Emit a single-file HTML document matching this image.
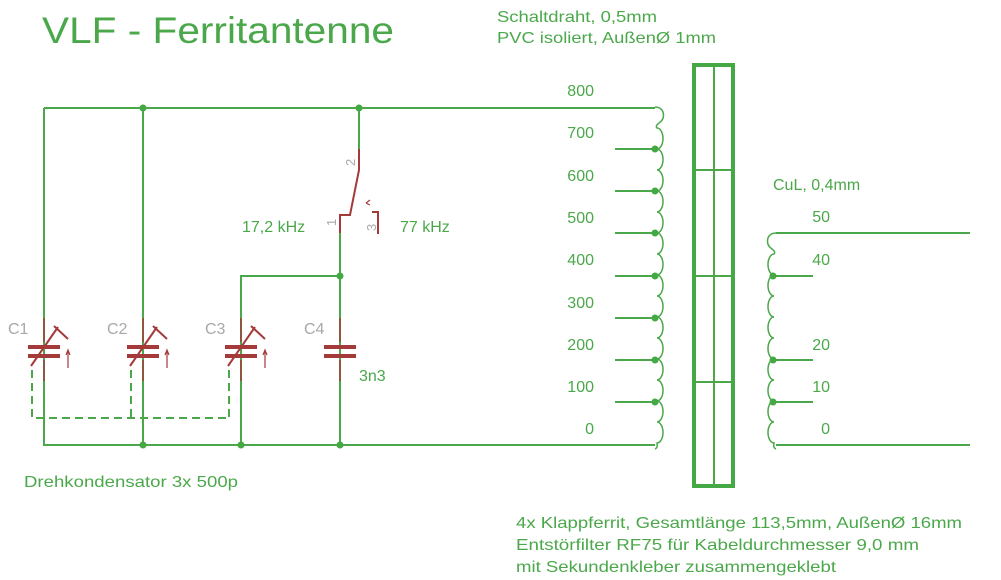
<!DOCTYPE html>
<html><head><meta charset="utf-8"><style>
html,body{margin:0;padding:0;background:#fff;}
svg{display:block;}
text{font-family:"Liberation Sans",sans-serif;}
</style></head><body>
<svg width="1001" height="580" viewBox="0 0 1001 580" xmlns="http://www.w3.org/2000/svg">
<g fill="#4aa84a">
<text x="42" y="43" font-size="37" textLength="352" lengthAdjust="spacingAndGlyphs">VLF - Ferritantenne</text>
<text x="497" y="22" font-size="16" textLength="160" lengthAdjust="spacingAndGlyphs">Schaltdraht, 0,5mm</text>
<text x="497" y="43" font-size="16" textLength="219" lengthAdjust="spacingAndGlyphs">PVC isoliert, AußenØ 1mm</text>
<text x="24" y="487" font-size="16" textLength="214" lengthAdjust="spacingAndGlyphs">Drehkondensator 3x 500p</text>
<text x="516" y="528" font-size="16" textLength="446" lengthAdjust="spacingAndGlyphs">4x Klappferrit, Gesamtlänge 113,5mm, AußenØ 16mm</text>
<text x="516" y="550" font-size="16" textLength="403" lengthAdjust="spacingAndGlyphs">Entstörfilter RF75 für Kabeldurchmesser 9,0 mm</text>
<text x="516" y="572" font-size="16" textLength="320" lengthAdjust="spacingAndGlyphs">mit Sekundenkleber zusammengeklebt</text>
<text x="242" y="232" font-size="16">17,2 kHz</text>
<text x="400" y="232" font-size="16">77 kHz</text>
<text x="359" y="381" font-size="16">3n3</text>
<text x="773" y="190" font-size="16">CuL, 0,4mm</text>
<g font-size="16" text-anchor="end">
<text x="594" y="96">800</text><text x="594" y="138">700</text><text x="594" y="181">600</text>
<text x="594" y="223">500</text><text x="594" y="265">400</text><text x="594" y="308">300</text>
<text x="594" y="350">200</text><text x="594" y="392">100</text><text x="594" y="434">0</text>
<text x="830" y="222">50</text><text x="830" y="265">40</text><text x="830" y="350">20</text>
<text x="830" y="392">10</text><text x="830" y="434">0</text>
</g>
</g>
<g fill="#a8a8a8" font-size="16">
<text x="8" y="334">C1</text><text x="107" y="334">C2</text><text x="205" y="334">C3</text><text x="304" y="334">C4</text>
</g>
<g fill="#a8a8a8" font-size="13">
<text transform="translate(355,166) rotate(-90)">2</text>
<text transform="translate(336,226) rotate(-90)">1</text>
<text transform="translate(376,231) rotate(-90)">3</text>
</g>
<g stroke="#4aa84a" stroke-width="2" fill="none">
<path d="M44,108 H655 M44,108 V445 H655"/>
<path d="M143,108 V445"/>
<path d="M241,445 V276 H340"/>
<path d="M340,233 V445"/>
<path d="M359,108 V149"/>
<path d="M32,370 V418 H229 M131,370 V418 M229,370 V418" stroke-dasharray="8,5"/>
<path d="M615,149 H655 M615,191 H655 M615,233 H655 M615,276 H655 M615,318 H655 M615,360 H655 M615,402 H655"/>
<path d="M775,276 H813 M775,360 H813 M775,402 H813"/>
<path d="M776,233 H970 M776,445 H970"/>
<path d="M655,107 q6,0 8,5 q2,7 -4,11 q-4,3 -2,5
 a6,10.5 0 0 1 0,21 a6,10.5 0 0 1 0,21 a6,10.5 0 0 1 0,21 a6,10.5 0 0 1 0,21 a6,10.5 0 0 1 0,21 a6,10.5 0 0 1 0,21 a6,10.5 0 0 1 0,21 a6,10.5 0 0 1 0,21 a6,10.5 0 0 1 0,21 a6,10.5 0 0 1 0,21 a6,10.5 0 0 1 0,21 a6,10.5 0 0 1 0,21 a6,10.5 0 0 1 0,21 a6,10.5 0 0 1 0,21 a6,10.5 0 0 1 0,21 q1,5 -2,6" stroke-width="1.5"/>
<path d="M776,233 q-6,0 -8,5 q-2,7 4,11 q4,3 2,5
 a6,10.5 0 0 0 0,21 a6,10.5 0 0 0 0,21 a6,10.5 0 0 0 0,21 a6,10.5 0 0 0 0,21 a6,10.5 0 0 0 0,21 a6,10.5 0 0 0 0,21 a6,10.5 0 0 0 0,21 a6,10.5 0 0 0 0,21 a6,10.5 0 0 0 0,21 q-1,5 2,6" stroke-width="1.5"/>
<rect x="694" y="65" width="39" height="421" stroke-width="4" stroke="#44a844"/>
<path d="M714,65 V486 M696,170 H732 M696,276 H732 M696,382 H732"/>
</g>
<g fill="#44a844">
<circle cx="143" cy="108" r="3.5"/><circle cx="359" cy="108" r="3.5"/>
<circle cx="143" cy="445" r="3.5"/><circle cx="241" cy="445" r="3.5"/><circle cx="340" cy="445" r="3.5"/>
<circle cx="340" cy="276" r="3.5"/>
<circle cx="655" cy="149" r="3.5"/><circle cx="655" cy="191" r="3.5"/><circle cx="655" cy="233" r="3.5"/><circle cx="655" cy="276" r="3.5"/><circle cx="655" cy="318" r="3.5"/><circle cx="655" cy="360" r="3.5"/><circle cx="655" cy="402" r="3.5"/>
<circle cx="773" cy="276" r="3.5"/><circle cx="773" cy="360" r="3.5"/><circle cx="773" cy="402" r="3.5"/>
</g>
<g stroke="#a53a3a" fill="none">
<g stroke-width="2">
<path d="M359,149 V170 L350,215 H340 V233"/>
<path d="M372,212 H378 V234"/>
<path d="M366,203 L370,200 M366,203 L370,205" stroke-width="1.2"/>
</g>
<g id="vc">
<path d="M44,318 V342 M44,360 V381" stroke-width="1.5"/>
<path d="M28,347 H60 M28,356 H60" stroke-width="4"/>
<path d="M31,366 L58,327 M54,326 L68,339" stroke-width="2"/>
<path d="M68,368 V351 M66,355 L68,350 L70,355" stroke-width="1.2"/>
</g>
<use href="#vc" x="99"/>
<use href="#vc" x="197"/>
<path d="M340,318 V342 M340,360 V381" stroke-width="1.5"/>
<path d="M324,347 H356 M324,356 H356" stroke-width="4"/>
</g>
</svg>
</body></html>
